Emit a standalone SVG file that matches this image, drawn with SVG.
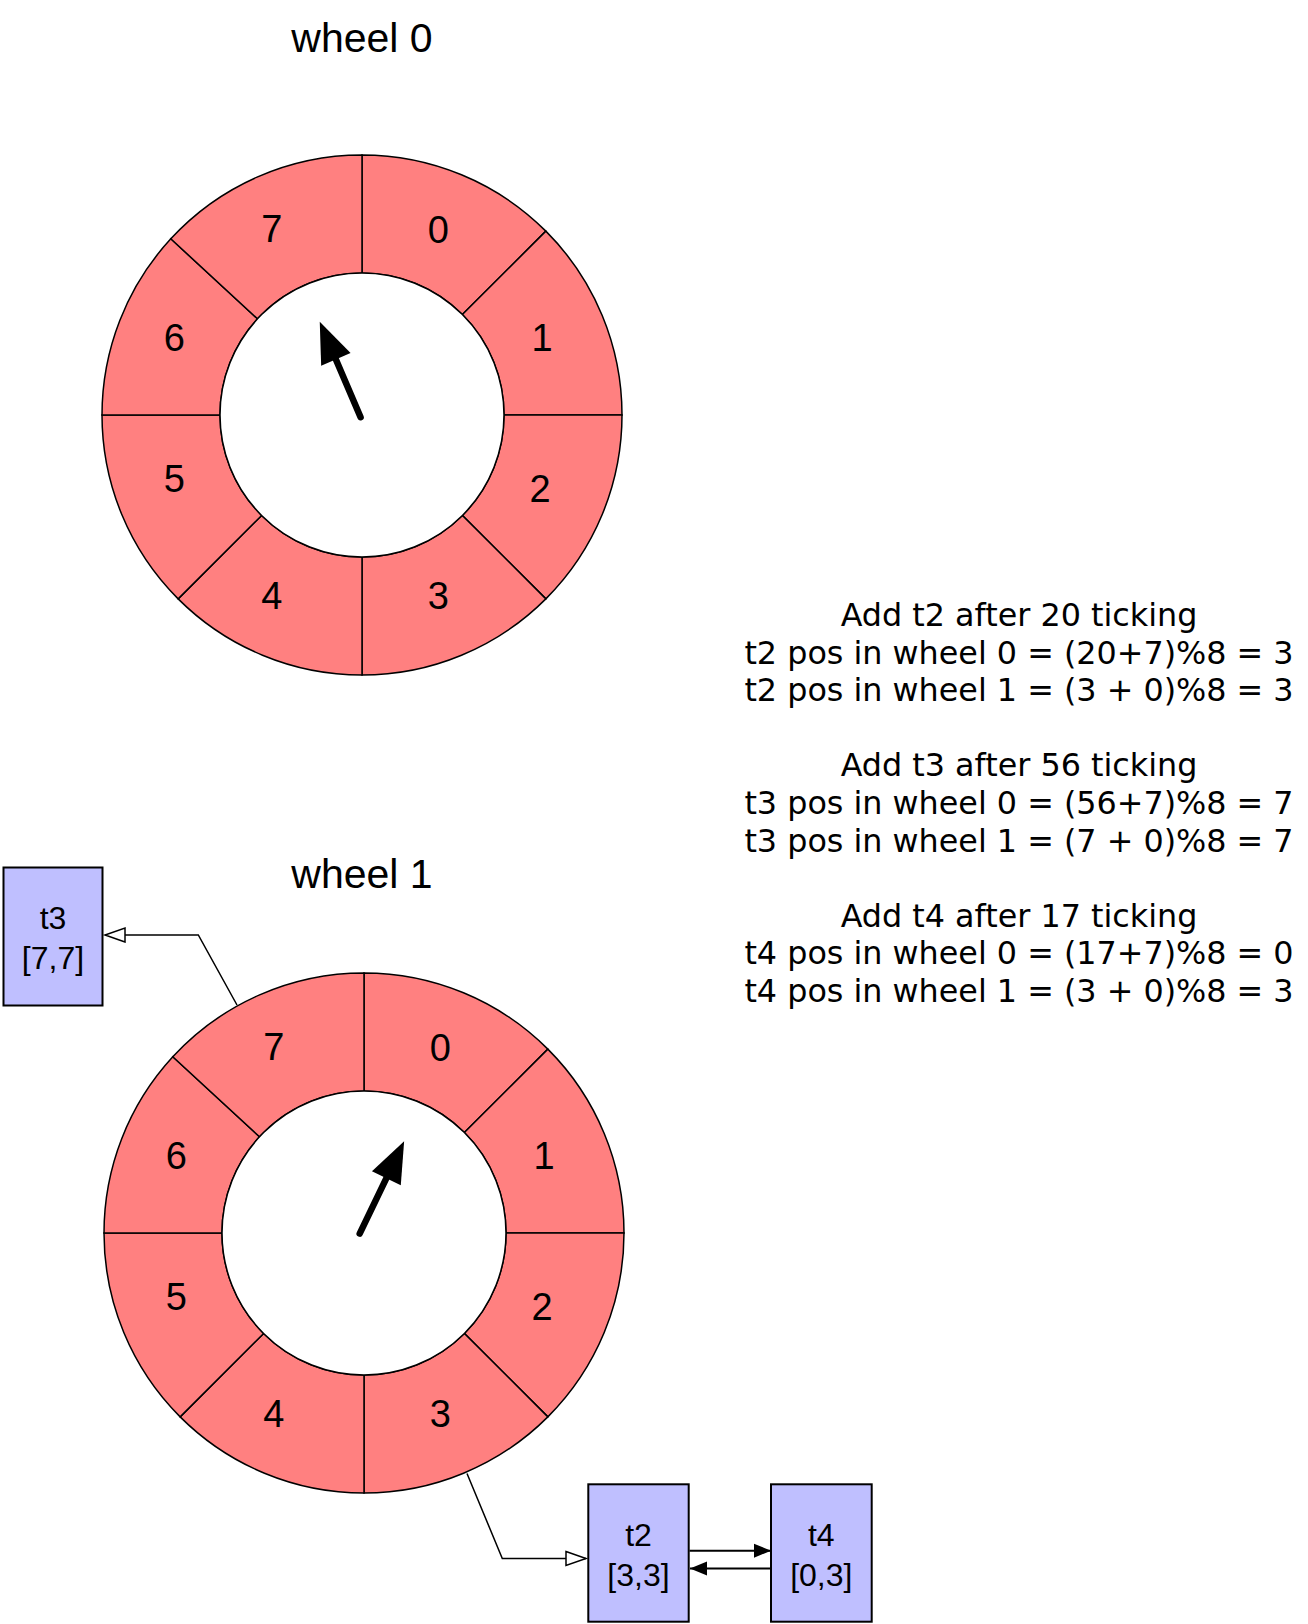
<svg xmlns="http://www.w3.org/2000/svg" width="1308" height="1624" viewBox="0 0 1308 1624">
<style>
.slot{fill:#FF8080;stroke:#000;stroke-width:1.5}
.hub{fill:#fff;stroke:#000;stroke-width:1.5}
.num{font-family:"Liberation Sans",Arial,Helvetica,sans-serif;font-size:38px;fill:#000;text-anchor:middle}
.title{font-family:"Liberation Sans",Arial,Helvetica,sans-serif;font-size:41px;fill:#000;text-anchor:middle}
.box{fill:#BFBFFF;stroke:#000;stroke-width:2}
.boxt{font-family:"Liberation Sans",Arial,Helvetica,sans-serif;font-size:32px;fill:#000;text-anchor:middle}
.note{font-family:"DejaVu Sans",Verdana,sans-serif;font-size:31.8px;fill:#000;text-anchor:middle}
.hand{fill:none;stroke:#000;stroke-width:6.5;stroke-linecap:round;marker-end:url(#handHead)}
.link{fill:none;stroke:#000;stroke-width:1.5;marker-end:url(#hollow)}
.next{fill:none;stroke:#000;stroke-width:2;marker-end:url(#solid)}
</style>
<defs>
<marker id="handHead" markerUnits="userSpaceOnUse" markerWidth="42" markerHeight="33" refX="4" refY="16" orient="auto" overflow="visible">
<path d="M0,0 L41,16 L0,32 Z" fill="#000"/>
</marker>
<marker id="hollow" markerUnits="userSpaceOnUse" markerWidth="22" markerHeight="16" refX="20" refY="7" orient="auto" overflow="visible">
<path d="M0,0 L20,7 L0,14 Z" fill="#fff" stroke="#000" stroke-width="1.5"/>
</marker>
<marker id="solid" markerUnits="userSpaceOnUse" markerWidth="18" markerHeight="15" refX="17" refY="7" orient="auto" overflow="visible">
<path d="M0,0 L17,7 L0,14 Z" fill="#000"/>
</marker>
</defs>

<text class="title" x="362" y="52">wheel 0</text>
<g id="wheel0" transform="translate(362,415)">
<g id="w0-slot0"><path class="slot" d="M0,-260 A260,260 0 0 1 183.85,-183.85 L100.41,-100.41 A142,142 0 0 0 0,-142 Z"/><text class="num" x="76.3" y="-172.2">0</text></g>
<g id="w0-slot1"><path class="slot" d="M183.85,-183.85 A260,260 0 0 1 260,0 L142,0 A142,142 0 0 0 100.41,-100.41 Z"/><text class="num" x="180" y="-64.5">1</text></g>
<g id="w0-slot2"><path class="slot" d="M260,0 A260,260 0 0 1 183.85,183.85 L100.41,100.41 A142,142 0 0 0 142,0 Z"/><text class="num" x="178" y="87.3">2</text></g>
<g id="w0-slot3"><path class="slot" d="M183.85,183.85 A260,260 0 0 1 0,260 L0,142 A142,142 0 0 0 100.41,100.41 Z"/><text class="num" x="76.3" y="194.3">3</text></g>
<g id="w0-slot4"><path class="slot" d="M0,260 A260,260 0 0 1 -183.85,183.85 L-100.41,100.41 A142,142 0 0 0 0,142 Z"/><text class="num" x="-90.3" y="194.3">4</text></g>
<g id="w0-slot5"><path class="slot" d="M-183.85,183.85 A260,260 0 0 1 -260,0 L-142,0 A142,142 0 0 0 -100.41,100.41 Z"/><text class="num" x="-187.8" y="76.8">5</text></g>
<g id="w0-slot6"><path class="slot" d="M-260,0 A260,260 0 0 1 -191.2,-176.2 L-104.5,-96.2 A142,142 0 0 0 -142,0 Z"/><text class="num" x="-187.8" y="-64.5">6</text></g>
<g id="w0-slot7"><path class="slot" d="M-191.2,-176.2 A260,260 0 0 1 0,-260 L0,-142 A142,142 0 0 0 -104.5,-96.2 Z"/><text class="num" x="-90.3" y="-173.3">7</text></g>
<circle class="hub" cx="0" cy="0" r="142"/>
<path class="hand" d="M-1.4,2.2 L-27.7,-59.3"/>
</g>

<text class="title" x="362" y="887.5">wheel 1</text>
<g id="wheel1" transform="translate(364,1233)">
<g id="w1-slot0"><path class="slot" d="M0,-260 A260,260 0 0 1 183.85,-183.85 L100.41,-100.41 A142,142 0 0 0 0,-142 Z"/><text class="num" x="76.3" y="-172.2">0</text></g>
<g id="w1-slot1"><path class="slot" d="M183.85,-183.85 A260,260 0 0 1 260,0 L142,0 A142,142 0 0 0 100.41,-100.41 Z"/><text class="num" x="180" y="-64.5">1</text></g>
<g id="w1-slot2"><path class="slot" d="M260,0 A260,260 0 0 1 183.85,183.85 L100.41,100.41 A142,142 0 0 0 142,0 Z"/><text class="num" x="178" y="87.3">2</text></g>
<g id="w1-slot3"><path class="slot" d="M183.85,183.85 A260,260 0 0 1 0,260 L0,142 A142,142 0 0 0 100.41,100.41 Z"/><text class="num" x="76.3" y="194.3">3</text></g>
<g id="w1-slot4"><path class="slot" d="M0,260 A260,260 0 0 1 -183.85,183.85 L-100.41,100.41 A142,142 0 0 0 0,142 Z"/><text class="num" x="-90.3" y="194.3">4</text></g>
<g id="w1-slot5"><path class="slot" d="M-183.85,183.85 A260,260 0 0 1 -260,0 L-142,0 A142,142 0 0 0 -100.41,100.41 Z"/><text class="num" x="-187.8" y="76.8">5</text></g>
<g id="w1-slot6"><path class="slot" d="M-260,0 A260,260 0 0 1 -191.2,-176.2 L-104.5,-96.2 A142,142 0 0 0 -142,0 Z"/><text class="num" x="-187.8" y="-64.5">6</text></g>
<g id="w1-slot7"><path class="slot" d="M-191.2,-176.2 A260,260 0 0 1 0,-260 L0,-142 A142,142 0 0 0 -104.5,-96.2 Z"/><text class="num" x="-90.3" y="-173.3">7</text></g>
<circle class="hub" cx="0" cy="0" r="142"/>
<path class="hand" d="M-4.3,0.6 L24.1,-58.4"/>
</g>

<g id="t3">
<rect class="box" x="3.5" y="867.5" width="99" height="138"/>
<text class="boxt" x="53" y="929">t3</text>
<text class="boxt" x="53" y="969">[7,7]</text>
</g>
<g id="t2">
<rect class="box" x="588.3" y="1484.3" width="100.4" height="137.4"/>
<text class="boxt" x="638.5" y="1546">t2</text>
<text class="boxt" x="638.5" y="1586">[3,3]</text>
</g>
<g id="t4">
<rect class="box" x="771" y="1484.3" width="100.7" height="137.4"/>
<text class="boxt" x="821.3" y="1546">t4</text>
<text class="boxt" x="821.3" y="1586">[0,3]</text>
</g>

<g id="notes" class="note">
<text x="1019" y="626">Add t2 after 20 ticking</text>
<text x="1019" y="663.6">t2 pos in wheel 0 = (20+7)%8 = 3</text>
<text x="1019" y="701.2">t2 pos in wheel 1 = (3 + 0)%8 = 3</text>
<text x="1019" y="776.4">Add t3 after 56 ticking</text>
<text x="1019" y="814">t3 pos in wheel 0 = (56+7)%8 = 7</text>
<text x="1019" y="851.6">t3 pos in wheel 1 = (7 + 0)%8 = 7</text>
<text x="1019" y="926.8">Add t4 after 17 ticking</text>
<text x="1019" y="964.4">t4 pos in wheel 0 = (17+7)%8 = 0</text>
<text x="1019" y="1002">t4 pos in wheel 1 = (3 + 0)%8 = 3</text>
</g>

<g id="connectors">
<polyline class="link" points="237,1005 198.3,935 105,935"/>
<polyline class="link" points="467,1473.5 502.3,1558.5 586,1558.5"/>
<line class="next" x1="689.5" y1="1550.7" x2="771" y2="1550.7"/>
<line class="next" x1="771" y1="1568.5" x2="690" y2="1568.5"/>
</g>
</svg>
